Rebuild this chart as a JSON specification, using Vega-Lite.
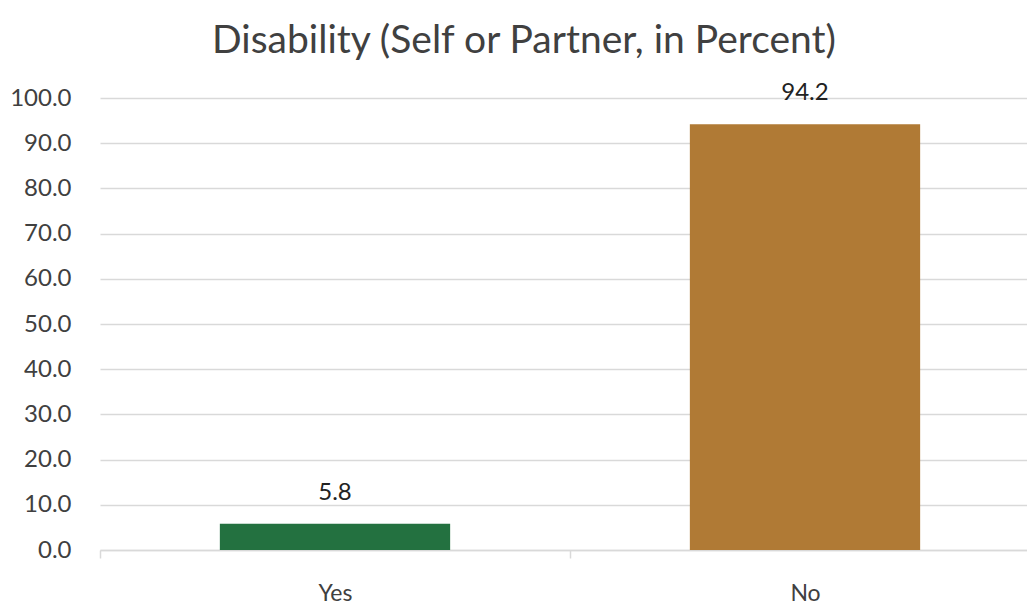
{
  "$schema": "https://vega.github.io/schema/vega-lite/v6.json",
  "autosize": {"type": "none"},
  "width": 940,
  "height": 452,
  "padding": {"left": 100, "top": 98, "right": 0, "bottom": 56},
  "background": "white",
  "title": {
    "text": "Disability (Self or Partner, in Percent)",
    "font": "Lato",
    "fontSize": 39,
    "fontWeight": "normal",
    "color": "#404040",
    "anchor": "middle",
    "dx": -46,
    "offset": 20
  },
  "config": {"view": {"stroke": null}},
  "data": {
    "values": [
      {"answer": "Yes", "percent": 5.8},
      {"answer": "No", "percent": 94.2}
    ]
  },
  "encoding": {
    "x": {
      "field": "answer",
      "type": "nominal",
      "sort": ["Yes", "No"],
      "scale": {"paddingInner": 0, "paddingOuter": 0},
      "axis": {
        "title": null,
        "labelAngle": 0,
        "labelFont": "Lato",
        "labelFontSize": 23,
        "labelColor": "#404040",
        "labelPadding": 24,
        "domainColor": "#d9d9d9",
        "domainWidth": 1.5,
        "tickColor": "#d9d9d9",
        "tickWidth": 1.5,
        "tickBand": "extent",
        "tickSize": 8,
        "grid": false
      }
    },
    "y": {
      "field": "percent",
      "type": "quantitative",
      "scale": {"domain": [0, 100]},
      "axis": {
        "title": null,
        "format": ".1f",
        "values": [0, 10, 20, 30, 40, 50, 60, 70, 80, 90, 100],
        "labelOverlap": false,
        "labelFont": "Lato",
        "labelFontSize": 24,
        "labelColor": "#404040",
        "labelPadding": 29,
        "domain": false,
        "ticks": false,
        "gridColor": "#d9d9d9",
        "gridWidth": 1.5
      }
    }
  },
  "layer": [
    {
      "mark": {"type": "bar", "width": {"band": 0.49}},
      "encoding": {
        "color": {
          "field": "answer",
          "type": "nominal",
          "scale": {"domain": ["Yes", "No"], "range": ["#237140", "#B07A35"]},
          "legend": null
        }
      }
    },
    {
      "mark": {"type": "text", "dy": -31, "font": "Lato", "fontSize": 24, "color": "#222222", "baseline": "middle"},
      "encoding": {
        "text": {"field": "percent", "type": "quantitative", "format": ".1f"}
      }
    }
  ]
}
